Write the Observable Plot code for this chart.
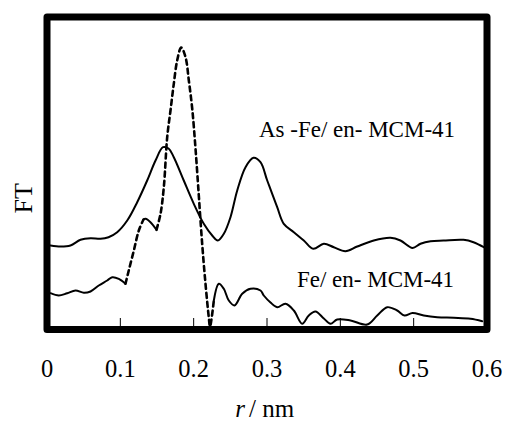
<!DOCTYPE html>
<html><head><meta charset="utf-8">
<script src="https://cdn.jsdelivr.net/npm/d3@7"></script>
<script src="https://cdn.jsdelivr.net/npm/@observablehq/plot@0.6"></script>
<style>
html,body{margin:0;padding:0;background:#fff;}
#chart svg{display:block;}
#chart svg, #chart svg text{font-family:"Liberation Serif","Times New Roman",Times,serif !important;}
</style></head><body><div id="chart"></div>
<script>
// As-Fe/en-MCM-41 (upper, solid)
const asFeR = [0.0048,0.0184,0.0320,0.0457,0.0593,0.0730,0.0839,0.0957,0.1094,0.1230,0.1366,0.1480,0.1582,0.1657,0.1729,0.1865,0.2002,0.2138,0.2253,0.2329,0.2411,0.2502,0.2594,0.2707,0.2816,0.2911,0.3003,0.3139,0.3229,0.3366,0.3502,0.3630,0.3775,0.3911,0.4070,0.4230,0.4456,0.4684,0.4820,0.4984,0.5093,0.5230,0.5407,0.5680,0.5816,0.5956];
const asFeFT = [8.4,8.3,8.4,8.97,9.13,9.07,9.23,9.73,10.9,12.73,14.9,16.9,18.23,18.1,17.23,14.9,12.57,10.57,9.4,8.9,9.57,11.23,13.9,16.23,17.17,16.73,14.9,12.23,10.57,9.73,8.9,8.07,8.57,8.23,7.83,8.3,8.9,9.17,8.9,8.15,8.57,8.83,8.9,8.97,8.73,8.23];
// Fe/en-MCM-41 (lower)
const feR = [0.0048,0.0161,0.0275,0.0389,0.0502,0.0593,0.0706,0.0821,0.0889,0.0979,0.1070,0.1115,0.1184,0.1252,0.1316,0.1343,0.1411,0.1493,0.1548,0.1593,0.1639,0.1684,0.1729,0.1775,0.1830,0.1889,0.1934,0.1980,0.2025,0.2070,0.2116,0.2161,0.2206,0.2223,0.2275,0.2343,0.2411,0.2479,0.2557,0.2662,0.2775,0.2911,0.2956,0.3048,0.3139,0.3252,0.3366,0.3480,0.3570,0.3661,0.3775,0.3866,0.3957,0.4139,0.4366,0.4503,0.4639,0.4775,0.4875,0.4984,0.5138,0.5321,0.5547,0.5775,0.5935];
const feFT = [3.63,3.4,3.63,3.9,3.67,3.8,4.4,4.9,5.23,5.07,4.57,5.9,7.9,9.9,11.0,11.07,10.73,9.97,11.57,14.23,19.23,21.9,24.57,26.9,28.2,27.23,24.9,22.1,18.1,13.4,8.57,4.6,1.23,0.3,2.9,4.57,4.07,2.9,2.4,3.57,4.07,3.9,3.4,2.7,2.23,2.57,1.9,0.57,1.4,1.8,1.1,0.57,1.0,0.9,0.5,1.4,2.23,1.9,1.4,1.65,1.4,1.23,1.17,1.07,0.83];
const xTicks = [0,0.1,0.2,0.3,0.4,0.5,0.6];
const tickLabels = ["0","0.1","0.2","0.3","0.4","0.5","0.6"];
const seriesNames = ["As -Fe/ en- MCM-41","Fe/ en- MCM-41"];
const yLabel = "FT";
const xLabelVar = "r";
const xLabelUnit = "/ nm";

// ranges of r where the lower trace is rendered dashed
const dashedRanges = [[0.1070,0.1316],[0.1493,0.2275]];

const upper = asFeR.map((r,i)=>({r, ft: asFeFT[i]}));
function splitSegments(rs, fts){
  const segs = [];
  let cur = null;
  for (let i=0;i<rs.length-1;i++){
    const mid = (rs[i]+rs[i+1])/2;
    const dashed = dashedRanges.some(([a,b])=>mid>=a && mid<=b);
    if (!cur || cur.dashed!==dashed){
      cur = {dashed, id: segs.length, pts:[{r:rs[i], ft:fts[i]}]};
      segs.push(cur);
    }
    cur.pts.push({r:rs[i+1], ft:fts[i+1]});
  }
  const solid=[], dash=[];
  for (const s of segs){
    for (const p of s.pts) (s.dashed?dash:solid).push({...p, seg:s.id});
  }
  return {solid, dash};
}
const lower = splitSegments(feR, feFT);

const mid = {textAnchor: "middle", lineAnchor: "middle", fill: "black"};
const plot = Plot.plot({
  width: 506, height: 423,
  marginTop: 16.5, marginBottom: 94, marginLeft: 46.5, marginRight: 19.5,
  style: {background: "white", color: "black"},
  x: {domain: [0, 0.6], axis: null},
  y: {domain: [0, 31.25], axis: null},
  marks: [
    Plot.ruleX(xTicks.slice(1,-1), {x: d=>d, y1: 0, y2: 1.1, stroke: "black", strokeWidth: 1}),
    Plot.line(upper, {x: "r", y: "ft", curve: "catmull-rom", stroke: "black", strokeWidth: 2}),
    Plot.line(lower.solid, {x: "r", y: "ft", z: "seg", curve: "catmull-rom", stroke: "black", strokeWidth: 2}),
    Plot.line(lower.dash, {x: "r", y: "ft", z: "seg", curve: "catmull-rom", stroke: "black", strokeWidth: 2.6, strokeDasharray: "5,4"}),
    Plot.frame({stroke: "black", strokeWidth: 7, strokeLinejoin: "round"}),
    Plot.text(xTicks, {...mid, x: d=>d, text: (d,i)=>tickLabels[i], frameAnchor: "bottom", dy: 39.9, fontSize: 24.5}),
    Plot.text([seriesNames[0]], {...mid, x: 0.4227, y: 19.94, text: d=>d, fontSize: 23}),
    Plot.text([seriesNames[1]], {...mid, x: 0.448, y: 4.94, text: d=>d, fontSize: 23}),
    Plot.text([yLabel], {...mid, frameAnchor: "left", text: d=>d, rotate: -90, dx: -23.1, dy: 25, fontSize: 26}),
    Plot.text([xLabelVar], {...mid, frameAnchor: "bottom", text: d=>d, textAnchor: "end", dx: -22, dy: 79, fontSize: 25, fontStyle: "italic"}),
    Plot.text([xLabelUnit], {...mid, frameAnchor: "bottom", text: d=>d, textAnchor: "start", dx: -18, dy: 79, fontSize: 25})
  ]
});
document.getElementById("chart").appendChild(plot);
</script>
</body></html>
